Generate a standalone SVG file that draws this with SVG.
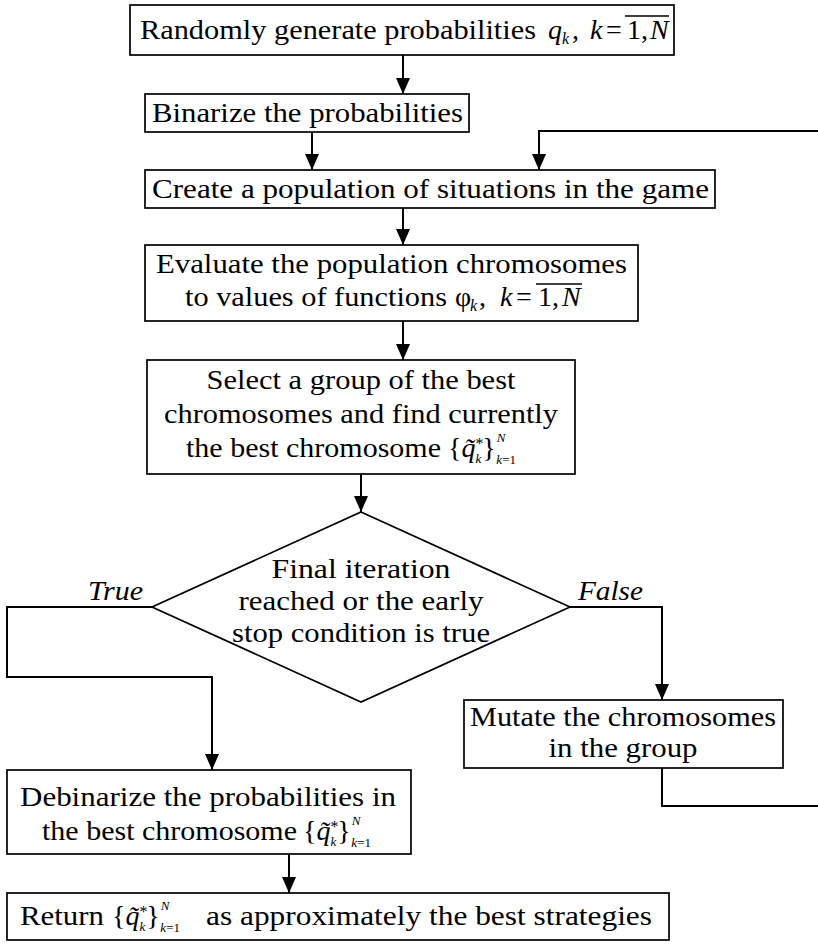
<svg xmlns="http://www.w3.org/2000/svg" width="818" height="944" viewBox="0 0 818 944">
<defs>
<style>
.box{fill:#fff;stroke:#000;stroke-width:1.7}
.t{font-family:"Liberation Serif","Times New Roman",serif;font-size:28px;fill:#000}
.i{font-style:italic}
.s{font-size:16px}
.ss{font-size:13px}
.c{text-anchor:middle}
.ln{fill:none;stroke:#000;stroke-width:2}
.ol{stroke:#000;stroke-width:1.4}
</style>
<marker id="av" markerWidth="16" markerHeight="14" refX="16" refY="7" orient="auto" markerUnits="userSpaceOnUse" viewBox="0 0 16 14">
<path d="M0,0 L16,7 L0,14 Z" fill="#000"/>
</marker>
</defs>
<rect width="818" height="944" fill="#fff"/>

<g id="connectors">
<line class="ln" x1="403" y1="55" x2="403" y2="94" marker-end="url(#av)"/>
<line class="ln" x1="312" y1="132" x2="312" y2="170" marker-end="url(#av)"/>
<polyline class="ln" points="818,131 539,131 539,170" marker-end="url(#av)"/>
<line class="ln" x1="403" y1="208" x2="403" y2="245" marker-end="url(#av)"/>
<line class="ln" x1="403" y1="321" x2="403" y2="360" marker-end="url(#av)"/>
<line class="ln" x1="361" y1="474" x2="361" y2="512" marker-end="url(#av)"/>
<polyline class="ln" points="152,607 7,607 7,677 212,677 212,770" marker-end="url(#av)"/>
<polyline class="ln" points="570,607 662,607 662,700" marker-end="url(#av)"/>
<polyline class="ln" points="662,768 662,806 818,806"/>
<line class="ln" x1="289" y1="854" x2="289" y2="893" marker-end="url(#av)"/>
<text class="t i" x="88" y="600" textLength="55" lengthAdjust="spacingAndGlyphs">True</text>
<text class="t i" x="578" y="600" textLength="65" lengthAdjust="spacingAndGlyphs">False</text>
</g>

<g id="n1">
<rect class="box" x="130" y="5" width="544" height="50"/>
<text class="t" x="140" y="39" textLength="396" lengthAdjust="spacingAndGlyphs">Randomly generate probabilities</text>
<text class="t"><tspan class="i" x="548" y="39">q</tspan><tspan class="i s" x="562" y="44">k</tspan><tspan x="572" y="39">,</tspan><tspan class="i" x="590" y="39">k</tspan><tspan x="606" y="39">=</tspan><tspan x="627" y="39">1,</tspan><tspan class="i" x="650" y="39">N</tspan></text>
<line class="ol" x1="625" y1="16" x2="669" y2="16"/>
</g>

<g id="n2">
<rect class="box" x="145" y="94" width="324" height="38"/>
<text class="t" x="152" y="122" textLength="311" lengthAdjust="spacingAndGlyphs">Binarize the probabilities</text>
</g>

<g id="n3">
<rect class="box" x="145" y="170" width="570" height="38"/>
<text class="t" x="152" y="198" textLength="557" lengthAdjust="spacingAndGlyphs">Create a population of situations in the game</text>
</g>

<g id="n4">
<rect class="box" x="145" y="245" width="493" height="76"/>
<text class="t" x="156" y="273" textLength="471" lengthAdjust="spacingAndGlyphs">Evaluate the population chromosomes</text>
<text class="t" x="185" y="306" textLength="262" lengthAdjust="spacingAndGlyphs">to values of functions</text>
<text class="t"><tspan x="455" y="306">φ</tspan><tspan class="i s" x="470" y="311">k</tspan><tspan x="479" y="306">,</tspan><tspan class="i" x="500" y="306">k</tspan><tspan x="516" y="306">=</tspan><tspan x="538" y="306">1,</tspan><tspan class="i" x="562" y="306">N</tspan></text>
<line class="ol" x1="536" y1="284" x2="582" y2="284"/>
</g>

<g id="n5">
<rect class="box" x="147" y="360" width="428" height="114"/>
<text class="t c" x="361" y="389" textLength="309" lengthAdjust="spacingAndGlyphs">Select a group of the best</text>
<text class="t c" x="361" y="423" textLength="394" lengthAdjust="spacingAndGlyphs">chromosomes and find currently</text>
<text class="t" x="186" y="457" textLength="255" lengthAdjust="spacingAndGlyphs">the best chromosome</text>
<text class="t" x="448" y="457">{<tspan class="i">q̃</tspan><tspan class="s" dy="-8">*</tspan><tspan class="i ss" dx="-8" dy="14">k</tspan><tspan dx="1" dy="-6">}</tspan><tspan class="i ss" dx="1" dy="-15">N</tspan><tspan class="i ss" dx="-9" dy="22">k</tspan><tspan class="ss">=1</tspan></text>
</g>

<g id="n6">
<polygon points="361,512 570,607 361,702 152,607" fill="#fff" stroke="#000" stroke-width="1.7"/>
<text class="t c" x="361" y="578" textLength="179" lengthAdjust="spacingAndGlyphs">Final iteration</text>
<text class="t c" x="361" y="610" textLength="245" lengthAdjust="spacingAndGlyphs">reached or the early</text>
<text class="t c" x="361" y="642" textLength="258" lengthAdjust="spacingAndGlyphs">stop condition is true</text>
</g>

<g id="n7">
<rect class="box" x="464" y="700" width="319" height="68"/>
<text class="t c" x="623" y="726" textLength="306" lengthAdjust="spacingAndGlyphs">Mutate the chromosomes</text>
<text class="t c" x="623" y="757" textLength="149" lengthAdjust="spacingAndGlyphs">in the group</text>
</g>

<g id="n8">
<rect class="box" x="7" y="770" width="404" height="84"/>
<text class="t" x="20" y="806" textLength="376" lengthAdjust="spacingAndGlyphs">Debinarize the probabilities in</text>
<text class="t" x="42" y="840" textLength="255" lengthAdjust="spacingAndGlyphs">the best chromosome</text>
<text class="t" x="303" y="840">{<tspan class="i">q̃</tspan><tspan class="s" dy="-8">*</tspan><tspan class="i ss" dx="-8" dy="14">k</tspan><tspan dx="1" dy="-6">}</tspan><tspan class="i ss" dx="1" dy="-15">N</tspan><tspan class="i ss" dx="-9" dy="22">k</tspan><tspan class="ss">=1</tspan></text>
</g>

<g id="n9">
<rect class="box" x="7" y="893" width="662" height="47"/>
<text class="t" x="20" y="925" textLength="84" lengthAdjust="spacingAndGlyphs">Return</text>
<text class="t" x="112" y="925">{<tspan class="i">q̃</tspan><tspan class="s" dy="-8">*</tspan><tspan class="i ss" dx="-8" dy="14">k</tspan><tspan dx="1" dy="-6">}</tspan><tspan class="i ss" dx="1" dy="-15">N</tspan><tspan class="i ss" dx="-9" dy="22">k</tspan><tspan class="ss">=1</tspan></text>
<text class="t" x="206" y="925" textLength="446" lengthAdjust="spacingAndGlyphs">as approximately the best strategies</text>
</g>
</svg>
